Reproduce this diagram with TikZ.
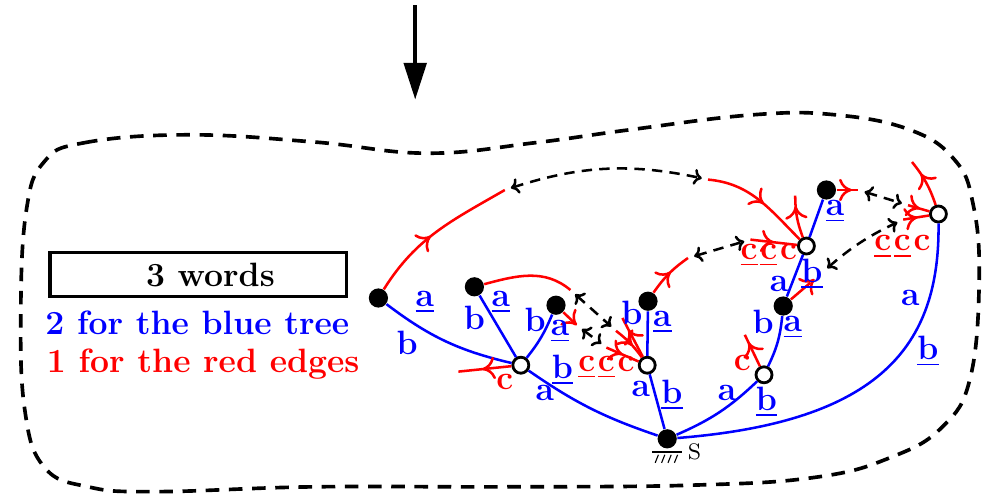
\documentclass[tikz,border=0pt]{standalone}
\usepackage{amsmath, amssymb, xcolor, tikz}
\usetikzlibrary{arrows.meta,decorations.markings,positioning}
\definecolor{blue}{RGB}{0,0,255}
\definecolor{red}{RGB}{255,0,0}

\begin{document}
\begin{tikzpicture}[every node/.style={font=\large\bfseries, inner sep=0pt},
  full/.style={circle, fill=black, minimum size=0.24cm},
  hollow/.style={circle, draw=black, fill=white, line width=1pt, minimum size=0.2cm},
  tree/.style={draw=blue, line width=0.9pt},
  redge/.style={draw=red, line width=0.9pt, postaction={decorate},
    decoration={markings, mark=at position #1 with {\arrow{To[length=1.6mm,width=2.8mm]}}}},
  redge/.default=0.5,
  ident/.style={black, line width=0.9pt, dash pattern=on 1.3mm off 0.9mm,
    >={To[length=1mm,width=2mm]}, <->, shorten <=0.8mm, shorten >=0.8mm},
  bl/.style={text=blue}, rd/.style={text=red}]
\useasboundingbox (0,0) rectangle (12.3,6.225);

\draw[line width=1.3pt, dash pattern=on 1.7mm off 1.2mm] plot[smooth cycle, tension=0.7] coordinates {
  (0.55,4.20) (1.05,4.44) (2.35,4.54) (3.93,4.45) (5.34,4.31) (6.68,4.44) (7.85,4.60)
  (9.41,4.79) (10.44,4.79) (11.38,4.60) (11.93,4.23) (12.16,3.69) (12.24,2.76)
  (12.13,1.51) (11.78,0.89) (11.14,0.51) (10.20,0.26) (8.63,0.16) (6.28,0.14)
  (3.93,0.14) (1.96,0.08) (1.10,0.14) (0.55,0.39) (0.31,1.10) (0.26,2.35) (0.33,3.60)};

\coordinate (in0) at (5.19,6.16);
\coordinate (in1) at (5.19,4.98);
\draw[line width=1.5pt, -{Triangle[length=4.6mm,width=2.8mm]}] (in0) -- (in1);

\node[draw, line width=1.2pt, minimum width=3.71cm, minimum height=0.55cm] (words) at (2.48,2.79) {\hspace{0.3cm}3 words};
\node[bl, anchor=base west] (bluetxt) at (0.56,2.04) {2 for the blue tree};
\node[rd, anchor=base west] (redtxt) at (0.58,1.575) {1 for the red edges};

\node[full] (S) at (8.34,0.74) {};
\node[hollow] (w1) at (6.51,1.66) {};
\node[full] (f1) at (4.73,2.50) {};
\node[full] (f2) at (5.93,2.64) {};
\node[full] (f3) at (6.95,2.41) {};
\node[hollow] (w2) at (8.09,1.66) {};
\node[full] (f4) at (8.10,2.46) {};
\node[hollow] (w3) at (9.55,1.54) {};
\node[full] (f5) at (9.79,2.40) {};
\node[hollow] (w4) at (10.08,3.15) {};
\node[full] (f6) at (10.33,3.85) {};
\node[hollow] (w5) at (11.73,3.55) {};

\node[font=\footnotesize] (Slab) at (8.68,0.575) {S};
\draw[thin] ([shift={(-0.19,-0.165)}]S.center) -- ([shift={(0.19,-0.165)}]S.center);
\foreach \x in {-0.11,-0.03,0.05,0.13}
  \draw[thin] ([shift={(\x,-0.2)}]S.center) -- ++(-0.04,-0.1);

\draw[tree] (f1) to[bend right=12] (w1);
\draw[tree] (f2) -- (w1);
\draw[tree] (f3) to[bend left=8] (w1);
\draw[tree] (w1) to[bend right=8] (S);
\draw[tree] (f4) -- (w2);
\draw[tree] (w2) -- (S);
\draw[tree] (S) to[bend right=10] (w3);
\draw[tree] (w3) to[bend right=10] (f5);
\draw[tree] (f5) -- (w4);
\draw[tree] (w4) -- (f6);
\draw[tree] (S) .. controls (11.0,0.95) and (11.75,1.9) .. (w5);

\coordinate (p1) at (6.31,3.85);
\coordinate (p2) at (8.85,3.98);
\coordinate (q1) at (7.13,2.60);
\coordinate (q2) at (7.70,2.09);
\coordinate (q3) at (7.21,2.16);
\coordinate (q4) at (7.58,1.88);
\coordinate (r1) at (8.60,3.00);
\coordinate (r2) at (9.38,3.23);
\coordinate (s1) at (10.73,3.85);
\coordinate (s2) at (11.35,3.66);
\coordinate (s3) at (10.28,2.82);
\coordinate (s4) at (11.29,3.48);
\coordinate (o1) at (5.73,1.58);
\coordinate (o2) at (7.78,2.25);
\coordinate (o3) at (9.31,2.04);
\coordinate (o4) at (9.94,3.78);
\coordinate (o5) at (11.40,4.20);

\draw[redge=0.45] (f1) to[out=58,in=210] (p1);
\draw[redge=0.55] (p2) to[out=-5,in=135] (w4);
\draw[red, line width=0.9pt] (f2) to[out=15,in=140] (q1);
\draw[red, line width=0.9pt, -{To[length=1.6mm,width=2.8mm]}] (f3) -- (q3);
\draw[redge=0.6] (q2) to[bend left=8] (w2);
\draw[redge=0.5] (q4) -- (w2);
\draw[redge=0.7] (w2) -- (o2);
\draw[redge=0.55] (w1) -- (o1);
\draw[redge=0.55] (f4) to[bend left=10] (r1);
\draw[redge=0.5] (r2) -- (w4);
\draw[redge=0.75] (w4) to[bend left=10] (o4);
\draw[redge=0.7] (f6) -- (s1);
\draw[redge=0.55] (s2) -- (w5);
\draw[redge=0.55] (s4) -- (w5);
\draw[redge=0.7] (w5) to[bend right=10] (o5);
\draw[redge=0.75, shorten >=2mm] (f5) -- (s3);
\draw[redge=0.75] (w3) -- (o3);

\draw[ident] (p1) to[bend left=15] (p2);
\draw[ident] (q1) -- (q2);
\draw[ident] (q3) -- (q4);
\draw[ident] (r1) -- (r2);
\draw[ident] (s1) -- (s2);
\draw[ident] (s3) to[bend left=8] (s4);

\node[bl] (l1) at (5.31,2.45) {\underline{a}};
\node[bl] (l2) at (5.09,1.94) {b};
\node[bl] (l3) at (5.93,2.25) {b};
\node[bl] (l4) at (6.26,2.45) {\underline{a}};
\node[bl] (l5) at (6.69,2.23) {b};
\node[bl] (l6) at (7.00,2.08) {\underline{a}};
\node[bl] (l7) at (7.03,1.60) {\underline{b}};
\node[bl] (l8) at (6.81,1.31) {a};
\node[bl] (l9) at (7.90,2.31) {b};
\node[bl] (l10) at (8.28,2.20) {\underline{a}};
\node[bl] (l11) at (8.01,1.36) {a};
\node[bl] (l12) at (8.40,1.29) {\underline{b}};
\node[bl] (l13) at (9.09,1.31) {a};
\node[bl] (l14) at (9.58,1.20) {\underline{b}};
\node[bl] (l15) at (9.54,2.20) {b};
\node[bl] (l16) at (9.91,2.13) {\underline{a}};
\node[bl] (l17) at (9.74,2.68) {a};
\node[bl] (l18) at (10.15,2.80) {\underline{b}};
\node[bl] (l19) at (10.44,3.58) {\underline{a}};
\node[bl] (l20) at (11.38,2.50) {a};
\node[bl] (l21) at (11.60,1.83) {\underline{b}};

\node[rd] (c1) at (6.31,1.45) {c};
\node[rd] (c2) at (9.28,1.69) {c};
\node[rd] (ccc1) at (7.58,1.63) {\underline{c}\kern1pt\underline{c}\kern1pt c};
\node[rd] (ccc2) at (9.61,3.03) {\underline{c}\kern1pt\underline{c}\kern1pt c};
\node[rd] (ccc3) at (11.28,3.14) {\underline{c}\kern1pt\underline{c}\kern1pt c};
\end{tikzpicture}
\end{document}
